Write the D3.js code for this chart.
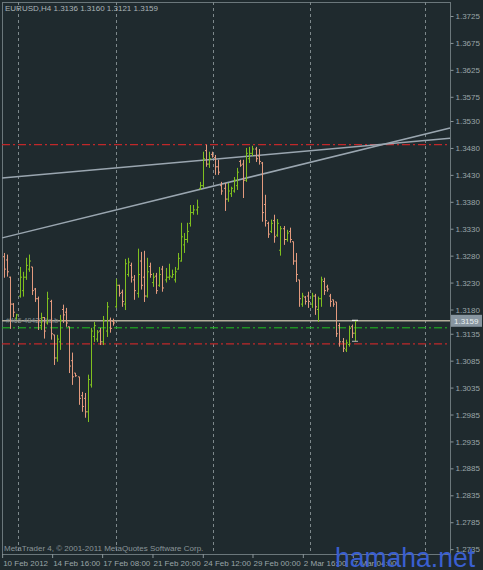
<!DOCTYPE html>
<html><head><meta charset="utf-8">
<script src="https://cdn.jsdelivr.net/npm/d3@7/dist/d3.min.js"></script>
<style>body{margin:0;background:#1f2a2e}svg{display:block}</style>
</head><body>
<script>
const symbolTitle = "EURUSD,H4  1.3136 1.3160 1.3121 1.3159";
const open  = [1.3278,1.3272,1.3240,1.3190,1.3164,1.3205,1.3215,1.3240,1.3255,1.3259,1.3218,1.3200,1.3150,1.3165,1.3155,1.3195,1.3133,1.3090,1.3120,1.3180,1.3175,1.3148,1.3085,1.3062,1.3055,1.3020,1.3015,1.2990,1.3040,1.3130,1.3125,1.3140,1.3120,1.3140,1.3160,1.3158,1.3185,1.3225,1.3212,1.3190,1.3245,1.3262,1.3235,1.3210,1.3270,1.3240,1.3205,1.3260,1.3230,1.3242,1.3225,1.3255,1.3235,1.3240,1.3240,1.3235,1.3255,1.3270,1.3300,1.3310,1.3340,1.3360,1.3365,1.3405,1.3410,1.3475,1.3450,1.3468,1.3462,1.3445,1.3410,1.3405,1.3385,1.3395,1.3400,1.3410,1.3455,1.3450,1.3420,1.3460,1.3470,1.3478,1.3465,1.3452,1.3375,1.3340,1.3325,1.3345,1.3318,1.3290,1.3330,1.3310,1.3325,1.3306,1.3270,1.3235,1.3190,1.3203,1.3205,1.3190,1.3205,1.3180,1.3200,1.3232,1.3222,1.3205,1.3198,1.3194,1.3150,1.3120,1.3105,1.3115,1.3148,1.3136];
const high  = [1.3285,1.3282,1.3241,1.3192,1.3172,1.3259,1.3250,1.3276,1.3282,1.3259,1.3220,1.3204,1.3174,1.3166,1.3213,1.3198,1.3133,1.3133,1.3170,1.3189,1.3183,1.3148,1.3100,1.3062,1.3055,1.3027,1.3025,1.3059,1.3146,1.3157,1.3142,1.3146,1.3168,1.3194,1.3165,1.3163,1.3237,1.3226,1.3217,1.3274,1.3276,1.3267,1.3244,1.3293,1.3287,1.3289,1.3276,1.3267,1.3248,1.3248,1.3259,1.3261,1.3257,1.3265,1.3254,1.3259,1.3285,1.3341,1.3322,1.3341,1.3374,1.3374,1.3384,1.3417,1.3473,1.3486,1.3473,1.3473,1.3467,1.3458,1.3417,1.3415,1.3415,1.3408,1.3426,1.3443,1.3458,1.3458,1.3480,1.3482,1.3484,1.3482,1.3478,1.3454,1.3393,1.3343,1.3347,1.3356,1.3348,1.3335,1.3335,1.3328,1.3332,1.3306,1.3285,1.3235,1.3211,1.3205,1.3213,1.3211,1.3209,1.3204,1.3241,1.3239,1.3226,1.3209,1.3198,1.3194,1.3155,1.3127,1.3124,1.3150,1.3152,1.3160];
const low   = [1.3239,1.3241,1.3144,1.3166,1.3161,1.3202,1.3204,1.3235,1.3250,1.3207,1.3194,1.3142,1.3142,1.3126,1.3152,1.3124,1.3077,1.3083,1.3105,1.3155,1.3148,1.3062,1.3040,1.3055,1.3003,1.2990,1.2979,1.2971,1.3035,1.3120,1.3120,1.3114,1.3114,1.3129,1.3137,1.3150,1.3183,1.3204,1.3185,1.3179,1.3241,1.3230,1.3198,1.3202,1.3217,1.3194,1.3202,1.3239,1.3222,1.3209,1.3222,1.3213,1.3230,1.3235,1.3239,1.3230,1.3254,1.3269,1.3285,1.3304,1.3334,1.3356,1.3356,1.3402,1.3406,1.3445,1.3443,1.3462,1.3430,1.3430,1.3393,1.3363,1.3380,1.3389,1.3397,1.3402,1.3445,1.3387,1.3417,1.3452,1.3465,1.3454,1.3449,1.3343,1.3334,1.3313,1.3322,1.3304,1.3315,1.3280,1.3300,1.3306,1.3304,1.3263,1.3231,1.3185,1.3185,1.3189,1.3183,1.3183,1.3170,1.3157,1.3185,1.3207,1.3213,1.3185,1.3185,1.3129,1.3111,1.3101,1.3101,1.3111,1.3127,1.3121];
const close = [1.3255,1.3250,1.3190,1.3175,1.3170,1.3240,1.3240,1.3262,1.3270,1.3215,1.3200,1.3160,1.3165,1.3140,1.3200,1.3135,1.3090,1.3125,1.3160,1.3170,1.3155,1.3075,1.3055,1.3057,1.3015,1.3000,1.2990,1.3050,1.3140,1.3150,1.3138,1.3120,1.3160,1.3185,1.3145,1.3155,1.3225,1.3210,1.3195,1.3265,1.3268,1.3240,1.3215,1.3245,1.3225,1.3205,1.3250,1.3245,1.3240,1.3215,1.3245,1.3220,1.3240,1.3242,1.3245,1.3250,1.3275,1.3315,1.3310,1.3325,1.3360,1.3365,1.3370,1.3410,1.3460,1.3450,1.3460,1.3465,1.3445,1.3435,1.3400,1.3385,1.3400,1.3405,1.3420,1.3435,1.3448,1.3420,1.3470,1.3470,1.3478,1.3460,1.3455,1.3360,1.3345,1.3320,1.3340,1.3315,1.3340,1.3330,1.3310,1.3322,1.3310,1.3270,1.3245,1.3200,1.3205,1.3195,1.3195,1.3205,1.3185,1.3200,1.3235,1.3215,1.3218,1.3195,1.3190,1.3135,1.3120,1.3108,1.3118,1.3145,1.3136,1.3159];
const priceTicks = [1.3725,1.3675,1.3625,1.3575,1.3530,1.3480,1.3430,1.3380,1.3330,1.3280,1.3230,1.3180,1.3135,1.3085,1.3035,1.2985,1.2935,1.2885,1.2835,1.2785,1.2735];
const timeLabels = ["10 Feb 2012","14 Feb 16:00","17 Feb 08:00","21 Feb 20:00","24 Feb 12:00","29 Feb 00:00","2 Mar 16:00","7 Mar 04:00"];
const timeLabelIdx = [-0.6,15.5,31.6,47.8,64,80,96.2,112.3];
const gridIdx = [4.5,36,67.3,98.4,135.5];
const redLevels = [1.3486,1.3116];
const greenLevel = 1.3146;
const currentPrice = 1.3159;
const trend1 = [[-0.6,1.3424],[143.6,1.3498]];
const trend2 = [[-0.6,1.3313],[143.6,1.3517]];

const W=483,H=570, L=2,R=450,T=2,B=554;
const FONT="Liberation Sans, Arial, sans-serif";
const svg=d3.select("body").append("svg").attr("width",W).attr("height",H);
svg.append("rect").attr("width",W).attr("height",H).attr("fill","#1f2a2e");
const x=d3.scaleLinear().domain([0,open.length-1]).range([4,355]);
const y=d3.scaleLinear().domain([1.3751,1.2726]).range([T,B]);

svg.append("rect").attr("x",L+0.5).attr("y",T+0.5).attr("width",R-L).attr("height",B-T)
 .attr("fill","none").attr("stroke","#6b777b");
svg.selectAll(".g").data(gridIdx).join("line").attr("x1",d=>Math.round(x(d))+0.5).attr("x2",d=>Math.round(x(d))+0.5)
 .attr("y1",T).attr("y2",B).attr("stroke","#7d888b").attr("stroke-dasharray","3,3");

const ya=d3.axisRight(y).tickValues(priceTicks).tickSize(3).tickFormat(d3.format(".4f"));
const yg=svg.append("g").attr("transform",`translate(${R+0.5},0)`).call(ya);
yg.select(".domain").remove();
yg.selectAll("line").attr("stroke","#8a9599");
yg.selectAll("text").attr("fill","#9aa5a8").attr("font-family",FONT).attr("font-size",8).attr("x",5);

const xg=svg.append("g");
xg.selectAll("line").data(timeLabelIdx).join("line").attr("x1",d=>x(d)+0.5).attr("x2",d=>x(d)+0.5)
 .attr("y1",B).attr("y2",B+4).attr("stroke","#8a9599");
xg.selectAll("text").data(timeLabels).join("text").attr("x",(d,i)=>x(timeLabelIdx[i])+1).attr("y",566)
 .text(d=>d).attr("fill","#9aa5a8").attr("font-family",FONT).attr("font-size",8);

const lvl=(p,c,dash,w)=>svg.append("line").attr("x1",L).attr("x2",R).attr("y1",y(p)).attr("y2",y(p))
 .attr("stroke",c).attr("stroke-width",w).attr("stroke-dasharray",dash);
redLevels.forEach(p=>lvl(p,"#c0282a","8,3,2,3",1.2));
lvl(greenLevel,"#1fc21f","8,3,2,3",1);
lvl(currentPrice,"#b4ad9c",null,1.5);
[trend1,trend2].forEach(t=>svg.append("line").attr("x1",x(t[0][0])).attr("y1",y(t[0][1]))
 .attr("x2",x(t[1][0])).attr("y2",y(t[1][1])).attr("stroke","#9aa6b0").attr("stroke-width",1.5));

svg.append("text").attr("x",6).attr("y",y(currentPrice)+2).text("#465 48423 ltd.b")
 .attr("fill","#7f8a8e").attr("font-family",FONT).attr("font-size",7);

const bars=svg.append("g");
open.forEach((o,i)=>{
  const up=close[i]>=o, c=up?"#7fbf1f":"#e39a7e", cx=Math.round(x(i))+0.5;
  bars.append("line").attr("x1",cx).attr("x2",cx).attr("y1",y(high[i])).attr("y2",y(low[i])).attr("stroke",c);
  bars.append("line").attr("x1",cx-1.5).attr("x2",cx).attr("y1",y(o)).attr("y2",y(o)).attr("stroke",c);
  bars.append("line").attr("x1",cx).attr("x2",cx+1.5).attr("y1",y(close[i])).attr("y2",y(close[i])).attr("stroke",c);
});
const lastIdx=open.length-1;
svg.append("line").attr("x1",x(lastIdx)-3).attr("x2",x(lastIdx)+3).attr("y1",y(high[lastIdx])).attr("y2",y(high[lastIdx])).attr("stroke","#ffffff");
svg.append("line").attr("x1",x(lastIdx)-3).attr("x2",x(lastIdx)+3).attr("y1",y(low[lastIdx])).attr("y2",y(low[lastIdx])).attr("stroke","#bbbbbb");

svg.append("rect").attr("x",R+1).attr("y",y(currentPrice)-6).attr("width",31).attr("height",12).attr("fill","#8795a0");
svg.append("text").attr("x",R+4).attr("y",y(currentPrice)+3).text(d3.format(".4f")(currentPrice))
 .attr("fill","#e8eef0").attr("font-family",FONT).attr("font-size",8);

svg.append("text").attr("x",5).attr("y",11).text(symbolTitle).attr("fill","#aab4b7").attr("font-family",FONT).attr("font-size",8);
svg.append("text").attr("x",4).attr("y",551).text("MetaTrader 4, © 2001-2011 MetaQuotes Software Corp.").attr("fill","#8a9599").attr("font-family",FONT).attr("font-size",8);
svg.append("text").attr("x",335).attr("y",567).text("hamaha.net").attr("fill","#3a5fd0").attr("font-family",FONT).attr("font-size",28).attr("textLength",140).attr("lengthAdjust","spacingAndGlyphs");
</script>
</body></html>
